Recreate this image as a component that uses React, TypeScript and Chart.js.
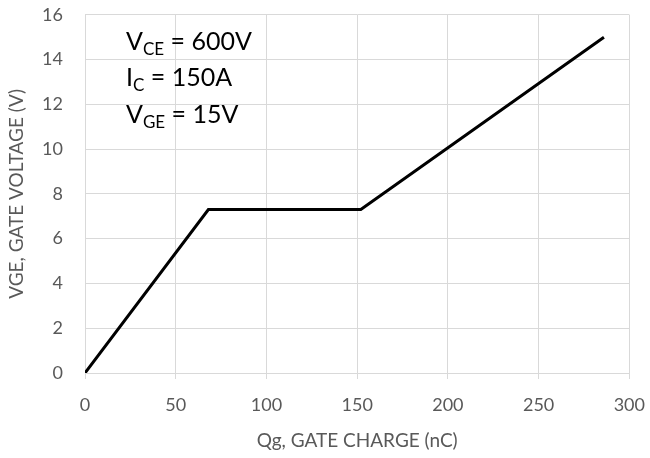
import React, { useEffect, useRef } from "react";
import { Chart, registerables } from "chart.js";

Chart.register(...registerables);

const gateCharge = [0, 68, 152, 286];
const gateVoltage = [0, 7.3, 7.3, 15];
const xTicks = [0, 50, 100, 150, 200, 250, 300];
const yTicks = [0, 2, 4, 6, 8, 10, 12, 14, 16];
const annotations = [
  { main: "V", sub: "CE", rest: " = 600V" },
  { main: "I", sub: "C", rest: " = 150A" },
  { main: "V", sub: "GE", rest: " = 15V" },
];
const xTitle = "Qg, GATE CHARGE (nC)";
const yTitle = "VGE, GATE VOLTAGE (V)";

const FONT = "Lato, 'Open Sans', sans-serif";

const annotationPlugin = {
  id: "annot",
  afterDraw(chart: any) {
    const ctx = chart.ctx;
    const area = chart.chartArea;
    ctx.save();
    ctx.fillStyle = "#000";
    ctx.textBaseline = "alphabetic";
    const x0 = area.left + 41;
    annotations.forEach((a, i) => {
      const yb = area.top + 35 + i * 36.5;
      let x = x0;
      ctx.font = `25px ${FONT}`;
      ctx.fillText(a.main, x, yb);
      x += ctx.measureText(a.main).width;
      ctx.font = `17px ${FONT}`;
      ctx.fillText(a.sub, x, yb + 5);
      x += ctx.measureText(a.sub).width;
      ctx.font = `25px ${FONT}`;
      ctx.fillText(a.rest, x, yb);
    });
    ctx.restore();
  },
};

export default function App() {
  const ref = useRef<HTMLCanvasElement>(null);
  useEffect(() => {
    document.body.style.margin = "0";
    const chart = new Chart(ref.current as HTMLCanvasElement, {
      type: "line",
      data: {
        datasets: [
          {
            data: gateCharge.map((x, i) => ({ x, y: gateVoltage[i] })),
            borderColor: "#000",
            borderWidth: 3,
            pointRadius: 0,
            fill: false,
            tension: 0,
          },
        ],
      },
      plugins: [annotationPlugin],
      options: {
        animation: false,
        responsive: false,
        layout: { padding: { top: 0, right: 0, left: 0, bottom: 0 } },
        plugins: { legend: { display: false }, tooltip: { enabled: false } },
        scales: {
          x: {
            type: "linear",
            min: 0,
            max: 300,
            afterBuildTicks: (s: any) => {
              s.ticks = xTicks.map((v) => ({ value: v }));
            },
            afterFit: (s: any) => {
              s.height = 85;
            },
            grid: { color: "#d9d9d9", lineWidth: 1, tickLength: 6, drawTicks: true },
            border: { color: "#d9d9d9", width: 1 },
            ticks: { color: "#595959", font: { family: FONT, size: 18, lineHeight: 2.4 }, padding: 5, maxRotation: 0 },
            title: { display: true, text: xTitle, color: "#595959", font: { family: FONT, size: 19 }, padding: { top: 4, bottom: 6 } },
          },
          y: {
            type: "linear",
            min: 0,
            max: 16,
            afterBuildTicks: (s: any) => {
              s.ticks = yTicks.map((v) => ({ value: v }));
            },
            afterFit: (s: any) => {
              s.width = 85;
            },
            grid: { color: "#d9d9d9", lineWidth: 1, drawTicks: true, tickLength: 18, tickColor: "rgba(0,0,0,0)" },
            border: { color: "#d9d9d9", width: 1 },
            ticks: { color: "#595959", font: { family: FONT, size: 18 }, padding: 4 },
            title: { display: true, text: yTitle, color: "#595959", font: { family: FONT, size: 19 }, padding: { top: 5, bottom: 0 } },
          },
        },
      },
    });
    return () => chart.destroy();
  }, []);
  return (
    <div style={{ width: 650, height: 458 }}>
      <canvas ref={ref} width={650} height={458} />
    </div>
  );
}
